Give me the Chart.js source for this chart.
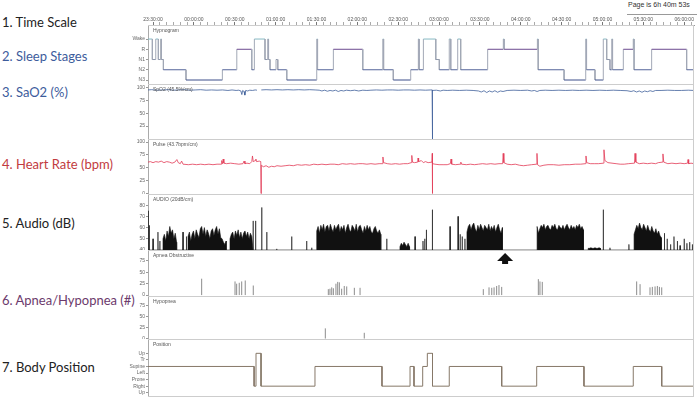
<!DOCTYPE html>
<html>
<head>
<meta charset="utf-8">
<script src="https://cdn.jsdelivr.net/npm/chart.js@4.4.1/dist/chart.umd.min.js"></script>
<style>
body { margin:0; width:700px; height:401px; background:#fff; position:relative; overflow:hidden; font-family: Lato, sans-serif; }
.lbl { position:absolute; left:2px; font-size:13px; line-height:13px; white-space:nowrap; }
.panel { position:absolute; left:128px; width:572px; }
#page { position:absolute; left:628px; top:1px; font-size:7px; font-family:'Liberation Sans', sans-serif; color:#333; white-space:nowrap; }
#pageLine { position:absolute; left:627px; top:14px; width:70px; height:0; border-top:1px solid #999; }
</style>
</head>
<body>
<div class="lbl" style="top:16px;color:#222">1. Time Scale</div>
<div class="lbl" style="top:50px;color:#3d5c9c">2. Sleep Stages</div>
<div class="lbl" style="top:86px;color:#3d5c9c">3. SaO2 (%)</div>
<div class="lbl" style="top:158px;color:#c23b3e">4. Heart Rate (bpm)</div>
<div class="lbl" style="top:217px;color:#222">5. Audio (dB)</div>
<div class="lbl" style="top:294px;color:#6c3a6c">6. Apnea/Hypopnea (#)</div>
<div class="lbl" style="top:361px;color:#222">7. Body Position</div>
<div id="page">Page is 6h 40m 53s</div>
<div id="pageLine"></div>

<div class="panel" style="top:8px;height:76px"><canvas id="hypno"></canvas></div>
<div class="panel" style="top:84px;height:55px"><canvas id="spo2"></canvas></div>
<div class="panel" style="top:139px;height:55px"><canvas id="pulse"></canvas></div>
<div class="panel" style="top:194px;height:56px"><canvas id="audio"></canvas></div>
<div class="panel" style="top:250px;height:46px"><canvas id="apnea"></canvas></div>
<div class="panel" style="top:296px;height:43px"><canvas id="hypop"></canvas></div>
<div class="panel" style="top:339px;height:58px"><canvas id="position"></canvas></div>

<script>
// time is minutes after 23:00
const tStart = 26.3;
const tEnd = 427.2;
const timeLabels = ['23:30:00','00:00:00','00:30:00','01:00:00','01:30:00','02:00:00','02:30:00',
    '03:00:00','03:30:00','04:00:00','04:30:00','05:00:00','05:30:00','06:00:00'];

const stageLabels = ['N3','N2','N1','R','Wake'];
const hypnogram = [[26.3,'Wake'],[29.5,'N1'],[32.0,'Wake'],[33.9,'N1'],[35.6,'Wake'],[36.2,'N1'],[37.6,'N2'],
    [54.2,'N3'],[80.9,'N2'],[91.5,'R'],[102.5,'N2'],[104.4,'Wake'],[112.2,'N1'],[114.2,'Wake'],[114.8,'N1'],
    [115.9,'N2'],[120.3,'N1'],[121.6,'N2'],[128.2,'N3'],[150.2,'Wake'],[150.8,'N2'],[162.4,'R'],[184.0,'N2'],
    [198.7,'Wake'],[199.3,'N2'],[206.4,'N3'],[219.2,'N2'],[224.8,'Wake'],[225.4,'N2'],[228.5,'Wake'],[237.6,'N1'],
    [240.2,'N2'],[247.5,'Wake'],[248.6,'N2'],[253.7,'Wake'],[255.9,'N2'],[275.7,'R'],[287.2,'Wake'],[287.8,'R'],
    [312.2,'Wake'],[312.8,'N2'],[331.8,'N3'],[347.7,'Wake'],[348.3,'N2'],[354.5,'N3'],[360.6,'Wake'],[363.1,'N1'],
    [365.5,'N2'],[366.8,'Wake'],[367.4,'N2'],[375.3,'R'],[382.6,'Wake'],[383.2,'N2'],[396.1,'R'],[421.8,'N2']];

const spo2Ticks = [25,50,75,100];
const spo2 = [[26.3,95],[29,95.5],[33,94.5],[37,95],[41,95.5],[45,94.5],[49,95],[53,95.5],[57,94.5],[61,95],
    [65,95.5],[69,94.5],[73,95],[77,94.5],[81,95],[85,94],[88,95],[91,94],[93,94.5],[94.5,93],[95.2,86],[95.8,94],
    [96.8,92],[97.4,85],[98,94],[99.5,93],[101,94.5],[103,94],[105,95],[106.3,94.5],[106.4,null],[109.4,null],
    [109.5,95],[113,95.5],[117,95],[121,95.5],[125,95],[129,95.5],[133,95],[137,95.5],[141,95],[145,95.5],[149,95],
    [152,94.5],[154,93],[156,94.5],[158,92.5],[160,94],[162,93],[164,94.5],[166,92],[168,94],[170,93],[172,94.5],
    [175,93.5],[178,94.5],[181,93],[184,94.5],[187,94],[190,94.5],[194,95],[198,94.5],[202,95],[206,95],[210,94.5],
    [214,95],[218,95],[222,94.5],[226,95],[230,94.5],[234,95],[234.9,95],[235.1,0],[235.3,94],[238,94.5],[241,93],
    [243,94.5],[246,94],[250,94.5],[255,94],[260,94.5],[265,94],[269,93],[271,91],[273,93.5],[275,90],[277,93],
    [279,91],[281,93.5],[283,90.5],[285,93],[287,92],[290,94],[295,94.5],[300,94],[305,94.5],[308,93],[310,94],
    [312,92],[314,94],[318,94.5],[323,94],[328,94.5],[333,94],[338,94.5],[343,94],[348,94.5],[353,94],[358,94.5],
    [363,94],[368,94.5],[373,94],[378,93.5],[381,92],[383,93.5],[385,91],[387,93],[389,90.5],[391,93],[393,91.5],
    [395,93.5],[397,92],[399,94],[403,94],[408,94.5],[413,94],[418,94],[423,94.5],[427.2,94]];

const pulseTicks = [0,25,50,75,100];
const pulse = [[26.3,61],[28,62],[30,60],[32,62],[34,61],[36,63],[38,60],[40,62],[42,61],[44,59],[46,61],
    [47.5,66],[48.5,60],[50,58],[51,63],[52,57],[56,56],[59,57],[62,56],[65,57],[68,56],[71,57],[74,56],[77,57],
    [80,57],[80.4,64],[81,58],[81.5,67],[82,59],[84,58],[87,59],[90,58],[93,57],[96,58],[96.8,63],[97.5,58],
    [99,59],[101,58],[102.5,62],[103,73],[103.6,62],[105,64],[105.5,67],[106,62],[108,63],[109.1,62],[109.3,0],
    [109.5,55],[111,52],[113,54],[115,51],[117,53],[119,52],[121,54],[124,53],[127,54],[130,55],[133,54],[136,56],
    [139,55],[142,56],[145,55],[148,57],[151,56],[154,57],[157,56],[160,57],[163,57],[166,56],[169,58],[172,57],
    [175,58],[178,57],[181,58],[184,58],[187,57],[190,58],[193,57],[196,58],[198.4,58],[198.8,71],[199.3,60],
    [202,58],[205,57],[208,58],[211,57],[214,58],[217,58],[219.6,60],[220,74],[220.5,61],[222,60],[224.3,61],
    [224.6,69],[225,62],[227,64],[228.5,60],[230,62],[232,60],[234.8,61],[235,78],[235.1,0],[235.3,58],[237,57],
    [240,56],[243,56],[246,56],[248.3,58],[248.8,67],[249.3,57],[252,56],[255.5,57],[256,61],[256.5,57],[260,56],
    [263,57],[266,56],[269,57],[272,58],[275,57],[278,58],[281,57],[284,58],[286.7,58],[287.1,78],[287.6,60],
    [290,57],[293,56],[296,57],[299,55],[302,54],[305,55],[308,56],[311.6,57],[311.9,78],[312.3,56],[314,53],
    [317,55],[320,56],[324,56],[328,55],[332,56],[336,56],[340,57],[344,57],[347.5,58],[347.9,73],[348.4,60],
    [351,58],[354,58],[357,58],[360.8,59],[361.1,85],[361.8,64],[364,60],[367,59],[370,58],[373,57],[376,57],
    [379,58],[383.5,59],[383.9,78],[384.5,61],[387,58],[390,59],[393,58],[396,59],[399,58],[401,60],[404,61],
    [404.4,77],[405,61],[408,58],[411,59],[414,58],[417,59],[420,58],[422.5,59],[422.8,66],[423.3,58],[425,59],
    [427.2,58]];

// snoring bursts: start time, then one dB value per minute
const audioTicks = [40,50,60,70,80];
const audioBursts = [
    [37.3, [50,54,48,57,52,61,55,58,50,55,47]],
    [55.7, [52,56,48,54,57,50,58,54,51,59,61,54,60,52,58,55,50,57,59,53,58,61,54,59,51,50,47,45,48]],
    [86.5, [50,54,56,50,57,53,58,51,56,50,55,57,52,56,50,55,52,56]],
    [150.2, [57,61,55,62,58,63,56,61,62,57,63,59,56,62,58,61,63,56,61,58,62,55,60,63,58,56,62,60,57,63,56,61,
        62,58,55,61,57,62,58,61,56,55,59,61,57,55,58,54]],
    [211.3, [43,46,44,47,45,43,46,43]],
    [260.5, [56,61,63,58,62,64,59,56,62,58,63,60,57,62,60,58,63,57,61,58,62,56,60,63,58,55,60]],
    [312.0, [61,55,59,62,60,63,58,61,62,59,58,62,60,63,59,58,62,60,59,62,58,61,63,60,58,62,59,61,58,62,60,63,
        59,61,58]],
    [349.5, [41.5,41.5,42,41.5,41.5,42,41.5,41.5,42,41.5]],
    [383.2, [54,58,62,59,64,60,58,63,60,57,62,58,56,61,57,55,59,54,57,53,51]]
];
const audioSpikes = [[26.5,75],[27.3,62],[30,50],[33.6,56],[35,48],[52,56],[54.5,52],[103.5,66],[105.3,66],
    [109.8,78],[113.5,56],[120.8,41],[131.8,52],[142.8,48],[146.5,42],[201.6,50],[222.4,52],[228.2,48],
    [229.5,50],[230.7,58],[235.1,76],[248.1,61],[254,70],[255.5,54],[257,52],[259,50],[360.6,76],[365.5,42],
    [379.4,45],[405.5,55],[407.5,50],[410,45],[412.5,52],[415,48],[417,44],[420,50],[422,46],[424,47],[426,45]];

const eventTicks = [0,25,50,75];
const apneaObstructive = [[65.7,36],[90.2,30],[91.4,25],[93.3,27],[95.1,30],[97.7,32],[103.6,21],[158.7,13],
    [159.9,14],[161.2,17],[162.4,15],[164.3,25],[165.6,29],[166.8,28],[168.5,14],[170.4,20],[172.2,19],[177.8,16],
    [182.0,16],[272.5,13],[276.7,17],[278.7,16],[280.4,17],[282.3,20],[284.0,22],[286.0,18],[312.9,35],[314.1,30],
    [315.8,29],[385.1,30],[387.6,24],[394.9,17],[396.6,18],[398.6,19],[400.3,20],[401.8,18],[403.5,17]];
const hypopnea = [[156.5,23],[185.1,13]];
const arrowTime = 288.5;

const positionLabels = ['Up','Right','Prone','Left','Supine','Tr','Up'];
const bodyPosition = [[26.3,'Supine'],[104.2,'Right'],[105.6,'Up'],[109.3,'Right'],[148.9,'Supine'],
    [198.1,'Right'],[218.7,'Supine'],[221.6,'Right'],[228.0,'Supine'],[231.4,'Up'],[235.2,'Right'],
    [247.5,'Supine'],[286.0,'Right'],[311.7,'Supine'],[346.4,'Right'],[382.6,'Supine'],[403.5,'Right']];

const tickFont = { size: 5, family: 'Liberation Sans' };

function toPoints(pairs) {
    return pairs.map(p => ({ x: p[0], y: p[1] }));
}

function stepPoints(pairs, levels) {
    const pts = [];
    pairs.forEach((p, i) => {
        const y = levels.lastIndexOf(p[1]);
        const end = i < pairs.length - 1 ? pairs[i + 1][0] : tEnd;
        pts.push({ x: p[0], y: y }, { x: end, y: y });
    });
    return pts;
}

// each event is a thin vertical stroke from 0
function eventPoints(pairs) {
    const pts = [];
    pairs.forEach(p => pts.push({ x: p[0], y: 0 }, { x: p[0], y: p[1] }, { x: p[0], y: null }));
    return pts;
}

function audioPoints() {
    let pts = [];
    audioBursts.forEach(b => {
        const vals = b[1];
        pts.push({ x: b[0] - 0.05, y: 40 });
        vals.forEach((v, i) => pts.push({ x: b[0] + i, y: v }));
        pts.push({ x: b[0] + vals.length - 0.95, y: 40 });
    });
    audioSpikes.forEach(s => {
        pts.push({ x: s[0] - 0.1, y: 40 }, { x: s[0], y: s[1] }, { x: s[0] + 0.1, y: 40 });
    });
    pts.sort((a, b) => a.x - b.x);
    return pts;
}

function clock(t) {
    const i = Math.round((t - 30) / 30);
    return (Math.abs(t - 30 - i * 30) < 0.01 && timeLabels[i]) ? timeLabels[i] : '';
}

const framePlugin = {
    id: 'frame',
    afterDraw(chart, args, opts) {
        const a = chart.chartArea, ctx = chart.ctx;
        ctx.save();
        ctx.strokeStyle = '#cdcdcd';
        ctx.lineWidth = 1;
        ctx.beginPath();
        ctx.moveTo(a.left, a.top + 0.5); ctx.lineTo(a.right, a.top + 0.5);
        ctx.moveTo(a.right - 0.5, a.top); ctx.lineTo(a.right - 0.5, a.bottom);
        if (opts.bottom) { ctx.moveTo(a.left, a.bottom - 0.5); ctx.lineTo(a.right, a.bottom - 0.5); }
        ctx.stroke();
        ctx.fillStyle = '#555';
        ctx.font = '5px "Liberation Sans"';
        ctx.textBaseline = 'top';
        ctx.fillText(opts.title, a.left + 5, a.top + 3);
        if (opts.arrow) {
            const x = chart.scales.x.getPixelForValue(arrowTime);
            ctx.fillStyle = '#111';
            ctx.beginPath();
            ctx.moveTo(x, 3); ctx.lineTo(x + 8, 11); ctx.lineTo(x - 8, 11);
            ctx.closePath();
            ctx.fill();
            ctx.fillRect(x - 3, 11, 6, 3);
        }
        ctx.restore();
    }
};

function yAxis(min, max, values, labelOf) {
    return {
        min: min, max: max,
        afterFit: s => { s.width = 20; s.paddingTop = 0; s.paddingBottom = 0; },
        afterBuildTicks: s => { s.ticks = values.map(v => ({ value: v })); },
        ticks: { font: tickFont, color: '#666', padding: 1, autoSkip: false, callback: labelOf || (v => v) },
        grid: { drawOnChartArea: false, tickLength: 2, color: '#999' },
        border: { color: '#aaa' }
    };
}

function xHidden() {
    return { type: 'linear', min: tStart, max: tEnd, display: false, offset: false };
}

function panel(id, datasets, y, frame, x) {
    new Chart(document.getElementById(id), {
        type: 'line',
        data: { datasets: datasets },
        options: {
            responsive: true,
            maintainAspectRatio: false,
            animation: false,
            layout: { padding: { left: 0, right: 6, top: 0, bottom: 0 } },
            plugins: { legend: { display: false }, tooltip: { enabled: false }, frame: frame },
            elements: { point: { radius: 0 }, line: { tension: 0 } },
            scales: { x: x || xHidden(), y: y }
        },
        plugins: [framePlugin]
    });
}

const stageColors = ['#3d4f8a', '#55649a', '#8d96aa', '#6b4a8f', '#86b9c4'];

panel('hypno', [{
    data: stepPoints(hypnogram, stageLabels),
    borderWidth: 1,
    borderColor: '#9aa3b5',
    segment: {
        borderColor: c => c.p0.parsed.y === c.p1.parsed.y ? stageColors[c.p0.parsed.y] : '#a2a8b6'
    }
}], yAxis(-0.39, 5.37, [0, 1, 2, 3, 4], v => stageLabels[v]), { title: 'Hypnogram' }, {
    type: 'linear', position: 'top', min: tStart, max: tEnd, offset: false,
    afterFit: s => { s.height = 17; s.paddingLeft = 0; s.paddingRight = 0; },
    afterBuildTicks: s => {
        const t = [];
        for (let v = 30; v <= tEnd; v += 5) t.push({ value: v });
        s.ticks = t;
    },
    ticks: { font: tickFont, color: '#555', maxRotation: 0, autoSkip: false, padding: -1, callback: v => clock(v) },
    grid: { drawOnChartArea: false, tickLength: 3, color: c => clock(c.tick.value) ? '#777' : '#aaa' },
    border: { color: '#999' }
});

panel('spo2', [{
    data: toPoints(spo2), borderColor: '#3f5f9a', borderWidth: 0.8, spanGaps: false
}], yAxis(0, 106.5, spo2Ticks), { title: 'SpO2 (45.5%/cm)' });

panel('pulse', [{
    data: toPoints(pulse), borderColor: '#e23a55', borderWidth: 0.8
}], yAxis(-1, 106, pulseTicks), { title: 'Pulse (43.7bpm/cm)' });

panel('audio', [{
    data: audioPoints(), borderColor: '#111', borderWidth: 0.6,
    backgroundColor: '#111', fill: { value: 40 }
}], yAxis(40, 90, audioTicks), { title: 'AUDIO (20dB/cm)' });

panel('apnea', [{
    data: eventPoints(apneaObstructive), borderColor: '#8c8c8c', borderWidth: 1, spanGaps: false
}], yAxis(-2, 99, eventTicks), { title: 'Apnea Obstructive', arrow: true });

panel('hypop', [{
    data: eventPoints(hypopnea), borderColor: '#8c8c8c', borderWidth: 1, spanGaps: false
}], yAxis(-1, 96, eventTicks), { title: 'Hypopnea' });

panel('position', [{
    data: stepPoints(bodyPosition, positionLabels), borderColor: '#867868', borderWidth: 1
}], yAxis(-0.65, 8.18, [0, 1, 2, 3, 4, 5, 6], v => positionLabels[v]), { title: 'Position', bottom: true });
</script>
</body>
</html>
